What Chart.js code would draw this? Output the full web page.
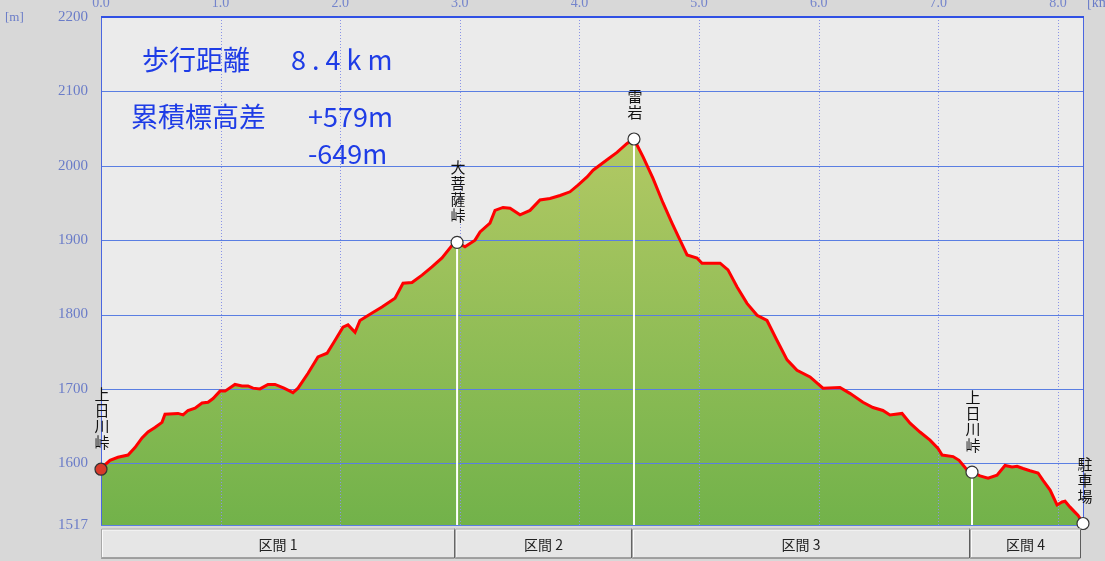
<!DOCTYPE html>
<html>
<head>
<meta charset="utf-8">
<script src="https://cdn.jsdelivr.net/npm/chart.js@4/dist/chart.umd.min.js"></script>
<style>
html, body { margin: 0; padding: 0; background: #d8d8d8; overflow: hidden; }
#wrap { position: absolute; left: 0; top: -10px; width: 1105px; height: 571px; }
</style>
</head>
<body>
<div id="wrap"><canvas id="profile" width="1105" height="571"></canvas></div>
<script>
// elevation profile
var distKm = [0.000, 0.033, 0.075, 0.142, 0.226, 0.284, 0.343, 0.393, 0.451, 0.510,
    0.535, 0.644, 0.686, 0.727, 0.786, 0.845, 0.895, 0.937, 0.995, 1.037,
    1.120, 1.179, 1.229, 1.271, 1.329, 1.396, 1.455, 1.530, 1.605, 1.647,
    1.731, 1.814, 1.890, 1.956, 2.023, 2.065, 2.124, 2.165, 2.266, 2.349,
    2.458, 2.525, 2.600, 2.684, 2.767, 2.851, 2.935, 2.977, 3.043, 3.127,
    3.169, 3.252, 3.294, 3.361, 3.420, 3.503, 3.587, 3.670, 3.754, 3.838,
    3.921, 3.988, 4.064, 4.114, 4.231, 4.314, 4.398, 4.456, 4.532, 4.615,
    4.699, 4.774, 4.841, 4.900, 4.983, 5.025, 5.176, 5.242, 5.318, 5.401,
    5.485, 5.568, 5.652, 5.736, 5.819, 5.928, 6.036, 6.178, 6.261, 6.370,
    6.454, 6.537, 6.596, 6.697, 6.764, 6.847, 6.931, 6.998, 7.032, 7.124,
    7.174, 7.241, 7.282, 7.349, 7.416, 7.491, 7.558, 7.617, 7.659, 7.709,
    7.767, 7.834, 7.876, 7.935, 7.993, 8.035, 8.060, 8.102, 8.144, 8.169,
    8.210];
var elevM = [1592, 1598, 1604, 1608, 1611, 1621, 1634, 1642, 1648, 1655,
    1666, 1667, 1665, 1671, 1674, 1681, 1682, 1687, 1697, 1697,
    1706, 1704, 1704, 1701, 1700, 1706, 1706, 1701, 1695, 1701,
    1721, 1743, 1748, 1765, 1783, 1786, 1776, 1792, 1802, 1810,
    1822, 1842, 1843, 1853, 1864, 1876, 1893, 1897, 1891, 1900,
    1911, 1923, 1940, 1944, 1943, 1934, 1940, 1954, 1956, 1960,
    1965, 1974, 1985, 1994, 2008, 2018, 2030, 2036, 2012, 1983,
    1950, 1923, 1900, 1880, 1876, 1869, 1869, 1860, 1837, 1815,
    1799, 1792, 1765, 1739, 1725, 1716, 1701, 1702, 1694, 1682,
    1675, 1671, 1665, 1667, 1654, 1642, 1631, 1620, 1611, 1609,
    1604, 1591, 1588, 1583, 1580, 1584, 1597, 1595, 1596, 1593,
    1590, 1587, 1577, 1564, 1544, 1548, 1549, 1541, 1534, 1530,
    1519];

var wpNames = ['上日川峠', '大菩薩峠', '雷岩', '上日川峠', '駐車場'];
var wpKm = [0, 2.977, 4.456, 7.282, 8.210];
var wpElev = [1592, 1897, 2036, 1588, 1519];

var sectionLabels = ['区間 1', '区間 2', '区間 3', '区間 4'];

var xTicks = [0, 1, 2, 3, 4, 5, 6, 7, 8];
var yTicks = [1517, 1600, 1700, 1800, 1900, 2000, 2100, 2200];

var summaryLines = [
    ['歩行距離', '8.4km'],
    ['累積標高差', '+579m'],
    ['', '-649m']
];

var CJK = '"Noto Sans CJK JP", sans-serif';
var SERIF = '"Liberation Serif", "DejaVu Serif", serif';

var profilePts = distKm.map(function (d, i) { return { x: d, y: elevM[i] }; });
var wpPts = wpKm.map(function (d, i) { return { x: d, y: wpElev[i] }; });

// white drop lines under the waypoints
var dropSets = [];
for (var i = 1; i < wpKm.length - 1; i++) {
    dropSets.push({
        type: 'line',
        data: [{ x: wpKm[i], y: yTicks[0] }, { x: wpKm[i], y: wpElev[i] }],
        borderColor: '#ffffff',
        borderWidth: 2,
        pointRadius: 0,
        fill: false,
        order: 2
    });
}

function greenFill(context) {
    var a = context.chart.chartArea;
    if (!a) return '#9cc05c';
    var g = context.chart.ctx.createLinearGradient(0, a.top, 0, a.bottom);
    g.addColorStop(0, '#c6d06c');
    g.addColorStop(1, '#72b24a');
    return g;
}

var profileDeco = {
    id: 'profileDeco',
    beforeDraw: function (chart) {
        var a = chart.chartArea, ctx = chart.ctx;
        ctx.save();
        ctx.fillStyle = '#ebebeb';
        ctx.fillRect(a.left, a.top, a.right - a.left, a.bottom - a.top);
        ctx.restore();
    },
    // grid goes over the green fill but under the red line
    beforeDatasetDraw: function (chart, args) {
        if (args.index !== 0) return;
        var a = chart.chartArea, ctx = chart.ctx;
        var xs = chart.scales.x, ys = chart.scales.y;
        ctx.save();
        ctx.lineWidth = 1;
        ctx.strokeStyle = '#8a94e6';
        ctx.setLineDash([1, 2]);
        xTicks.forEach(function (v) {
            if (v <= 0) return;
            var px = Math.round(xs.getPixelForValue(v)) + 0.5;
            ctx.beginPath();
            ctx.moveTo(px, a.top);
            ctx.lineTo(px, a.bottom);
            ctx.stroke();
        });
        ctx.setLineDash([]);
        ctx.strokeStyle = '#5a7ee2';
        yTicks.forEach(function (v) {
            var py = Math.round(ys.getPixelForValue(v)) + 0.5;
            ctx.beginPath();
            ctx.moveTo(a.left, py);
            ctx.lineTo(a.right, py);
            ctx.stroke();
        });
        // plot frame
        ctx.strokeStyle = '#4a66e0';
        ctx.beginPath();
        ctx.moveTo(a.left + 0.5, a.top);
        ctx.lineTo(a.left + 0.5, a.bottom);
        ctx.moveTo(a.right + 0.5, a.top);
        ctx.lineTo(a.right + 0.5, a.bottom);
        ctx.stroke();
        ctx.fillStyle = '#3050e4';
        ctx.fillRect(a.left, a.top - 1, a.right - a.left + 1, 2);
        ctx.restore();
    },
    afterDraw: function (chart) {
        var a = chart.chartArea, ctx = chart.ctx;
        var xs = chart.scales.x, ys = chart.scales.y;
        ctx.save();

        // waypoint names, written top to bottom
        ctx.fillStyle = '#111111';
        ctx.font = '15px ' + CJK;
        ctx.textAlign = 'center';
        ctx.textBaseline = 'middle';
        wpNames.forEach(function (name, i) {
            var chars = Array.from(name);
            var px = xs.getPixelForValue(wpKm[i]) + (i === wpKm.length - 1 ? 2 : 1);
            var py = ys.getPixelForValue(wpElev[i]);
            chars.forEach(function (ch, j) {
                ctx.fillText(ch, px, py - 27 - (chars.length - 1 - j) * 16);
            });
        });

        // section bar
        var top = a.bottom + 3.5, h = 30;
        for (var s = 0; s < sectionLabels.length; s++) {
            var x0 = xs.getPixelForValue(wpKm[s]);
            var x1 = xs.getPixelForValue(wpKm[s + 1]) - 2;
            if (s > 0) x0 -= 2;
            ctx.fillStyle = '#e6e6e6';
            ctx.fillRect(x0, top, x1 - x0, h);
            ctx.lineWidth = 1;
            ctx.strokeStyle = '#fbfbfb';
            ctx.beginPath();
            ctx.moveTo(x0 + 1.5, top + h - 1);
            ctx.lineTo(x0 + 1.5, top + 1.5);
            ctx.lineTo(x1 - 1, top + 1.5);
            ctx.stroke();
            ctx.strokeStyle = '#5c5c5c';
            ctx.beginPath();
            ctx.moveTo(x1 - 0.5, top);
            ctx.lineTo(x1 - 0.5, top + h - 0.5);
            ctx.lineTo(x0, top + h - 0.5);
            ctx.stroke();
            ctx.strokeStyle = '#a8a8a8';
            ctx.beginPath();
            ctx.moveTo(x0 + 0.5, top + h);
            ctx.lineTo(x0 + 0.5, top + 0.5);
            ctx.lineTo(x1, top + 0.5);
            ctx.stroke();
            ctx.fillStyle = '#222222';
            ctx.font = '14px ' + CJK;
            ctx.fillText(sectionLabels[s], (x0 + x1) / 2, top + h / 2 + 1);
        }

        // unit labels
        ctx.fillStyle = '#6a7cc8';
        ctx.font = '13px ' + SERIF;
        ctx.textAlign = 'left';
        ctx.fillText('[m]', 5, 28);
        ctx.font = '14px ' + SERIF;
        ctx.fillText('[km]', 1087, 13);

        // summary text
        ctx.fillStyle = '#1e3ce6';
        ctx.font = '27px ' + CJK;
        ctx.fillText(summaryLines[0][0], 142, 70);
        ctx.fillText(summaryLines[1][0], 131, 127);
        ctx.letterSpacing = '6px';
        ctx.fillText(summaryLines[0][1], 291, 70);
        ctx.letterSpacing = '0px';
        ctx.fillText(summaryLines[1][1], 308, 127);
        ctx.fillText(summaryLines[2][1], 308, 164);
        ctx.restore();
    }
};

var ctx = document.getElementById('profile');

var profileChart = new Chart(ctx, {
    type: 'line',
    data: {
        datasets: [{
            label: '標高',
            data: profilePts,
            borderColor: '#ff0000',
            borderWidth: 3,
            backgroundColor: greenFill,
            fill: 'start',
            pointRadius: 0,
            tension: 0,
            order: 3
        }].concat(dropSets).concat([{
            type: 'scatter',
            label: '地点',
            data: wpPts,
            pointRadius: 6,
            pointBackgroundColor: ['#d83a2a', '#ffffff', '#ffffff', '#ffffff', '#ffffff'],
            pointBorderColor: '#333333',
            pointBorderWidth: 1.2,
            clip: false,
            order: 1
        }])
    },
    options: {
        responsive: false,
        animation: false,
        layout: { padding: { left: 0, right: 22, top: 0, bottom: 36 } },
        plugins: {
            legend: { display: false },
            tooltip: { enabled: false }
        },
        scales: {
            x: {
                type: 'linear',
                position: 'top',
                min: 0,
                max: 8.21,
                afterBuildTicks: function (scale) {
                    scale.ticks = xTicks.map(function (v) { return { value: v }; });
                },
                afterFit: function (scale) { scale.height = 27; },
                grid: { display: false, drawTicks: false },
                border: { display: false },
                ticks: {
                    padding: 5,
                    maxRotation: 0,
                    color: '#7484cc',
                    font: { family: SERIF, size: 14 },
                    callback: function (v) { return Number(v).toFixed(1); }
                }
            },
            y: {
                type: 'linear',
                min: 1517,
                max: 2200,
                afterBuildTicks: function (scale) {
                    scale.ticks = yTicks.map(function (v) { return { value: v }; });
                },
                afterFit: function (scale) { scale.width = 101; },
                grid: { display: false, drawTicks: false },
                border: { display: false },
                ticks: {
                    padding: 13,
                    color: '#6a7cc8',
                    font: { family: SERIF, size: 15 },
                    callback: function (v) { return String(v); }
                }
            }
        }
    },
    plugins: [profileDeco]
});
</script>
</body>
</html>
